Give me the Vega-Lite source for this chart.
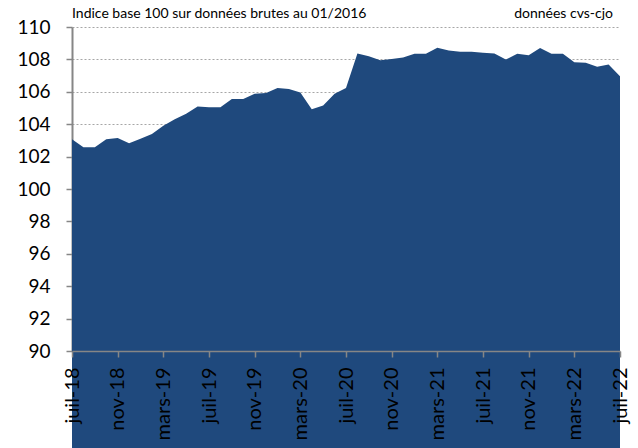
{
  "$schema": "https://vega.github.io/schema/vega-lite/v6.json",
  "autosize": "none",
  "width": 548,
  "height": 324,
  "padding": {"left": 72, "top": 27, "right": 18, "bottom": 97},
  "background": "white",
  "config": {
    "view": {"stroke": null},
    "font": "Lato"
  },
  "datasets": {
    "serie": [
      {"mois": "juil-18", "v": 103.07},
      {"mois": "août-18", "v": 102.57},
      {"mois": "sept-18", "v": 102.57},
      {"mois": "oct-18", "v": 103.07},
      {"mois": "nov-18", "v": 103.15},
      {"mois": "déc-18", "v": 102.82},
      {"mois": "janv-19", "v": 103.1},
      {"mois": "févr-19", "v": 103.4},
      {"mois": "mars-19", "v": 103.9},
      {"mois": "avr-19", "v": 104.3},
      {"mois": "mai-19", "v": 104.64},
      {"mois": "juin-19", "v": 105.09},
      {"mois": "juil-19", "v": 105.05},
      {"mois": "août-19", "v": 105.05},
      {"mois": "sept-19", "v": 105.55},
      {"mois": "oct-19", "v": 105.55},
      {"mois": "nov-19", "v": 105.88},
      {"mois": "déc-19", "v": 105.92},
      {"mois": "janv-20", "v": 106.24},
      {"mois": "févr-20", "v": 106.17},
      {"mois": "mars-20", "v": 105.96},
      {"mois": "avr-20", "v": 104.93},
      {"mois": "mai-20", "v": 105.16},
      {"mois": "juin-20", "v": 105.88},
      {"mois": "juil-20", "v": 106.24},
      {"mois": "août-20", "v": 108.37},
      {"mois": "sept-20", "v": 108.2},
      {"mois": "oct-20", "v": 107.95},
      {"mois": "nov-20", "v": 108.03},
      {"mois": "déc-20", "v": 108.12},
      {"mois": "janv-21", "v": 108.35},
      {"mois": "févr-21", "v": 108.35},
      {"mois": "mars-21", "v": 108.72},
      {"mois": "avr-21", "v": 108.55},
      {"mois": "mai-21", "v": 108.47},
      {"mois": "juin-21", "v": 108.47},
      {"mois": "juil-21", "v": 108.41},
      {"mois": "août-21", "v": 108.37},
      {"mois": "sept-21", "v": 107.99},
      {"mois": "oct-21", "v": 108.35},
      {"mois": "nov-21", "v": 108.26},
      {"mois": "déc-21", "v": 108.7},
      {"mois": "janv-22", "v": 108.35},
      {"mois": "févr-22", "v": 108.35},
      {"mois": "mars-22", "v": 107.83},
      {"mois": "avr-22", "v": 107.79},
      {"mois": "mai-22", "v": 107.54},
      {"mois": "juin-22", "v": 107.68},
      {"mois": "juil-22", "v": 106.96}
    ],
    "noteLeft": [
      {"mois": "juil-18", "v": 110, "t": "Indice base 100 sur données brutes au 01/2016"}
    ],
    "noteRight": [
      {"mois": "juil-22", "v": 110, "t": "données cvs-cjo"}
    ]
  },
  "layer": [
    {
      "data": {"name": "serie"},
      "mark": {"type": "area", "color": "#1F497D", "interpolate": "linear"},
      "encoding": {
        "x": {
          "field": "mois",
          "type": "ordinal",
          "sort": null,
          "scale": {"type": "point", "padding": 0},
          "axis": {
            "title": null,
            "values": ["juil-18", "nov-18", "mars-19", "juil-19", "nov-19", "mars-20", "juil-20", "nov-20", "mars-21", "juil-21", "nov-21", "mars-22", "juil-22"],
            "labelAngle": 270,
            "labelAlign": "right",
            "labelBaseline": "middle",
            "labelFontSize": 20,
            "labelColor": "#000000",
            "labelPadding": 10,
            "labelFlush": false,
            "labelOverlap": false,
            "tickSize": 6,
            "tickColor": "#868686",
            "tickWidth": 1.5,
            "domainColor": "#868686",
            "domainWidth": 1.5,
            "grid": false,
            "zindex": 1
          }
        },
        "y": {
          "field": "v",
          "type": "quantitative",
          "scale": {"domain": [90, 110], "zero": false, "nice": false},
          "axis": {
            "title": null,
            "values": [90, 92, 94, 96, 98, 100, 102, 104, 106, 108, 110],
            "tickCount": 20,
            "labelFontSize": 19,
            "labelColor": "#000000",
            "labelPadding": 16,
            "labelFlush": false,
            "labelOverlap": false,
            "tickSize": 6,
            "tickColor": "#868686",
            "tickWidth": 1.5,
            "domainColor": "#868686",
            "domainWidth": 2,
            "grid": true,
            "gridColor": "#A6A6A6",
            "gridDash": [2, 2],
            "gridWidth": 1,
            "zindex": 0
          }
        }
      }
    },
    {
      "data": {"name": "noteLeft"},
      "mark": {"type": "text", "fontSize": 14, "align": "left", "baseline": "middle", "dy": -13, "color": "#000000", "font": "Lato"},
      "encoding": {
        "x": {"field": "mois", "type": "ordinal", "sort": null},
        "y": {"field": "v", "type": "quantitative"},
        "text": {"field": "t"}
      }
    },
    {
      "data": {"name": "noteRight"},
      "mark": {"type": "text", "fontSize": 14, "align": "right", "baseline": "middle", "dy": -13, "dx": -7, "color": "#000000", "font": "Lato"},
      "encoding": {
        "x": {"field": "mois", "type": "ordinal", "sort": null},
        "y": {"field": "v", "type": "quantitative"},
        "text": {"field": "t"}
      }
    }
  ]
}
